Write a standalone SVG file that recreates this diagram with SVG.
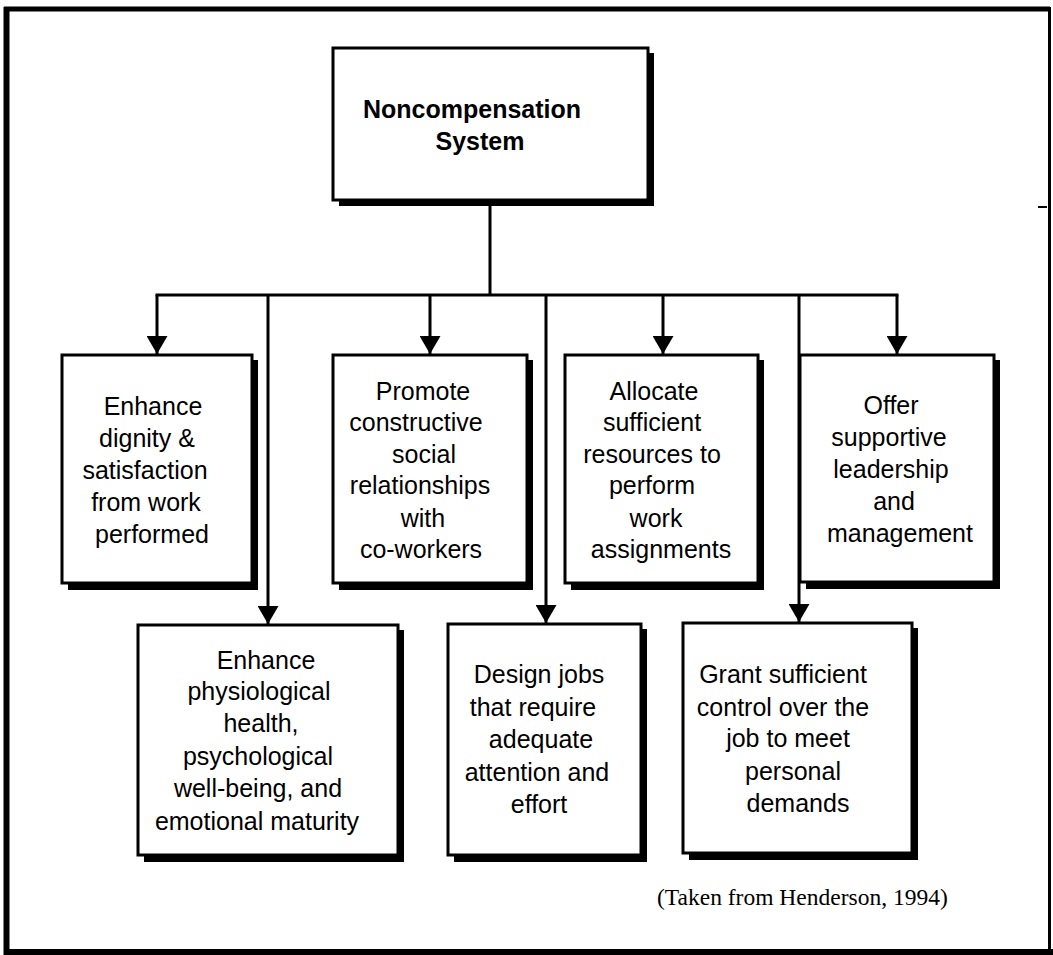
<svg xmlns="http://www.w3.org/2000/svg" width="1053" height="955" viewBox="0 0 1053 955">
  <style>
    .frame { stroke: #000; fill: none; }
    .shadow { fill: #000; stroke: none; }
    .box { fill: #fff; stroke: #000; stroke-width: 3; }
    .link { stroke: #000; stroke-width: 3; fill: none; }
    .label { font-family: "Liberation Sans", Arial, Helvetica, sans-serif; font-size: 25px; fill: #000; text-anchor: middle; }
    .title { font-family: "Liberation Sans", Arial, Helvetica, sans-serif; font-size: 25px; font-weight: bold; fill: #000; text-anchor: middle; }
    .note { font-family: "Liberation Serif", "Times New Roman", serif; font-size: 23.5px; fill: #000; }
  </style>
  <defs>
    <marker id="arrow" viewBox="0 0 18 21" refX="18" refY="10.5" markerWidth="18" markerHeight="21" markerUnits="userSpaceOnUse" orient="auto">
      <path d="M0,0 L18,10.5 L0,21 Z" fill="#000"/>
    </marker>
  </defs>

  <rect width="1053" height="955" fill="#fff"/>

  <!-- outer frame -->
  <g id="frame">
    <line class="frame" x1="4" y1="9" x2="1050" y2="9" stroke-width="5"/>
    <line class="frame" x1="6.5" y1="7" x2="6.5" y2="955" stroke-width="6"/>
    <line class="frame" x1="4" y1="952" x2="1053" y2="952" stroke-width="6"/>
    <line class="frame" x1="1049.5" y1="7" x2="1049.5" y2="955" stroke-width="3"/>
    <line class="frame" x1="1038" y1="207" x2="1047" y2="207" stroke-width="2"/>
  </g>

  <!-- connectors -->
  <g id="connectors">
    <line class="link" x1="490" y1="200" x2="490" y2="295"/>
    <line class="link" x1="155.5" y1="295" x2="898.5" y2="295"/>
    <line class="link" x1="157" y1="295" x2="157" y2="354" marker-end="url(#arrow)"/>
    <line class="link" x1="430" y1="295" x2="430" y2="354" marker-end="url(#arrow)"/>
    <line class="link" x1="663" y1="295" x2="663" y2="354" marker-end="url(#arrow)"/>
    <line class="link" x1="897" y1="295" x2="897" y2="354" marker-end="url(#arrow)"/>
    <line class="link" x1="268" y1="295" x2="268" y2="624" marker-end="url(#arrow)"/>
    <line class="link" x1="546" y1="295" x2="546" y2="623" marker-end="url(#arrow)"/>
    <line class="link" x1="799" y1="295" x2="799" y2="622" marker-end="url(#arrow)"/>
  </g>

  <!-- root -->
  <g id="node-root">
    <rect class="shadow" x="339" y="53" width="315" height="153"/>
    <rect class="box" x="333" y="48" width="315" height="152"/>
    <text class="title" x="472" y="118">Noncompensation</text>
    <text class="title" x="480" y="150">System</text>
  </g>

  <!-- upper row -->
  <g id="node-dignity">
    <rect class="shadow" x="68" y="360" width="190" height="230"/>
    <rect class="box" x="62" y="355" width="190" height="228"/>
    <text class="label" x="153" y="415">Enhance</text>
    <text class="label" x="147" y="447">dignity &amp;</text>
    <text class="label" x="145" y="479">satisfaction</text>
    <text class="label" x="146" y="511">from work</text>
    <text class="label" x="152" y="543">performed</text>
  </g>

  <g id="node-social">
    <rect class="shadow" x="339" y="360" width="194" height="230"/>
    <rect class="box" x="333" y="355" width="194" height="228"/>
    <text class="label" x="423" y="400">Promote</text>
    <text class="label" x="416" y="431">constructive</text>
    <text class="label" x="424" y="463">social</text>
    <text class="label" x="420" y="494">relationships</text>
    <text class="label" x="423" y="527">with</text>
    <text class="label" x="421" y="558">co-workers</text>
  </g>

  <g id="node-resources">
    <rect class="shadow" x="571" y="360" width="193" height="230"/>
    <rect class="box" x="565" y="355" width="193" height="228"/>
    <text class="label" x="654" y="400">Allocate</text>
    <text class="label" x="652" y="431">sufficient</text>
    <text class="label" x="652" y="463">resources to</text>
    <text class="label" x="652" y="494">perform</text>
    <text class="label" x="656" y="527">work</text>
    <text class="label" x="661" y="558">assignments</text>
  </g>

  <g id="node-leadership">
    <rect class="shadow" x="806" y="360" width="194" height="229"/>
    <rect class="box" x="800" y="355" width="194" height="227"/>
    <text class="label" x="891" y="414">Offer</text>
    <text class="label" x="889" y="446">supportive</text>
    <text class="label" x="891" y="478">leadership</text>
    <text class="label" x="894" y="510">and</text>
    <text class="label" x="900" y="542">management</text>
  </g>

  <!-- lower row -->
  <g id="node-health">
    <rect class="shadow" x="144" y="630" width="260" height="232"/>
    <rect class="box" x="138" y="625" width="260" height="230"/>
    <text class="label" x="266" y="669">Enhance</text>
    <text class="label" x="259" y="700">physiological</text>
    <text class="label" x="261" y="732">health,</text>
    <text class="label" x="258" y="765">psychological</text>
    <text class="label" x="258" y="797">well-being, and</text>
    <text class="label" x="257" y="830">emotional maturity</text>
  </g>

  <g id="node-jobs">
    <rect class="shadow" x="454" y="629" width="193" height="233"/>
    <rect class="box" x="448" y="624" width="193" height="231"/>
    <text class="label" x="539" y="683">Design jobs</text>
    <text class="label" x="533" y="716">that require</text>
    <text class="label" x="541" y="748">adequate</text>
    <text class="label" x="537" y="781">attention and</text>
    <text class="label" x="539" y="813">effort</text>
  </g>

  <g id="node-control">
    <rect class="shadow" x="689" y="628" width="229" height="232"/>
    <rect class="box" x="683" y="623" width="229" height="230"/>
    <text class="label" x="783" y="683">Grant sufficient</text>
    <text class="label" x="783" y="716">control over the</text>
    <text class="label" x="788" y="747">job to meet</text>
    <text class="label" x="793" y="780">personal</text>
    <text class="label" x="798" y="812">demands</text>
  </g>

  <text class="note" x="657" y="905">(Taken from Henderson, 1994)</text>
</svg>
